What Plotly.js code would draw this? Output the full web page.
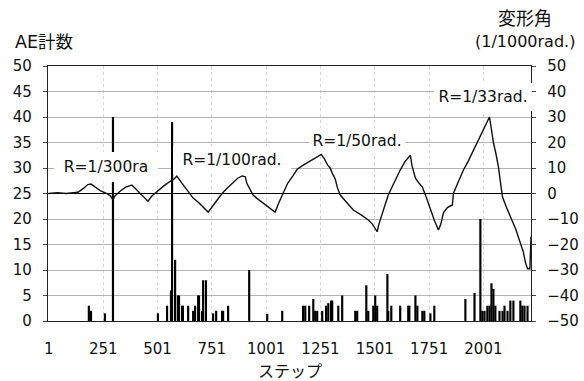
<!DOCTYPE html>
<html>
<head>
<meta charset="utf-8">
<script src="https://cdn.plot.ly/plotly-3.0.1.min.js"></script>
<style>html,body{margin:0;padding:0;background:#fff;}#chart{width:584px;height:381px;}</style>
</head>
<body>
<div id="chart"></div>
<script>
// Deformation angle (1/1000 rad.) vs step
const lineSteps = [0,40,80,120,135,160,180,195,215,240,268,285,296,305,330,355,383,410,430,457,475,500,530,563,575,590,600,614,640,665,690,715,734,750,775,798,820,845,870,890,905,912,925,941,960,990,1015,1042,1060,1079,1100,1125,1144,1170,1200,1230,1255,1270,1285,1296,1305,1319,1330,1342,1365,1402,1440,1471,1490,1512,1520,1535,1550,1563,1590,1618,1640,1665,1672,1688,1705,1720,1740,1757,1775,1794,1805,1817,1835,1858,1863,1885,1909,1930,1955,1975,1996,2010,2029,2040,2047,2060,2070,2080,2089,2105,2125,2150,2171,2185,2194,2204,2215,2220];
const angle = [0,0.3,0,0.3,0.5,2,3.5,3.7,2.5,1,0,-1,-2.5,-1,1,2.5,3.3,1,-1,-3,-1,1,3,5,5.5,6.8,5.5,4,1,-1.8,-3.5,-5.5,-7.3,-5.5,-2.5,0,2,4,6,6.9,6.5,4,2,-0.6,-2,-4,-5.5,-7.3,-3.5,0,4,7,9.5,11,12.5,14,15.3,13.5,11,10,8,5.7,2,-0.6,-3,-6.5,-8.5,-10.4,-12,-15,-12,-7.6,-4,-0.6,4.5,9.2,12.5,15,11,6,4,2.5,-2,-6.5,-10.5,-14.3,-12,-7.6,-5.5,-4.5,0,4.5,9.2,12.5,17,20,23.7,26.5,30,24,20,15,10.4,4,-1.4,-5,-9,-14,-19.4,-23,-27,-29.5,-29.5,-17];

// AE counts vs step
const aeSteps = [185,195,259,296,503,545,563,568,582,595,600,614,618,642,665,674,688,692,706,711,724,757,771,798,803,826,923,1006,1075,1171,1181,1199,1218,1227,1236,1259,1277,1287,1300,1305,1333,1351,1411,1420,1462,1471,1494,1503,1512,1559,1563,1577,1618,1655,1660,1688,1697,1720,1729,1757,1775,1918,1960,1987,1996,2006,2019,2029,2038,2047,2056,2075,2089,2098,2112,2125,2139,2171,2180,2190,2204];
const aeCounts = [3,2,1.5,40,1.5,3,6,39,12,5,5,3,3,3,2,3,5,5,2,8,8,1.5,2,2,2,3,10,1.4,2,3,3,3,4.3,2,2,2,3,3.5,4,4,3,5,2,2,7,2,3,5,3,9.2,2,3,3,3,3,5,3,2,2,1.5,3,4.3,5.5,20,2,2,3,3,7.4,6.3,3,2,2,3,2,4,4,4,3,3,3];

const xTickVals = [1,251,501,751,1001,1251,1501,1751,2001];
const xTickText = ['1','251','501','751','1001','1251','1501','1751','2001'];

const labels = ['R=1/300ra','R=1/100rad.','R=1/50rad.','R=1/33rad.'];
const leftTitle = 'AE計数';
const rightTitle1 = '変形角';
const rightTitle2 = '(1/1000rad.)';
const xTitle = 'ステップ';

const FONT = 'DejaVu Sans, Noto Sans CJK JP, sans-serif';
const CJK = 'Noto Sans CJK JP, sans-serif';
const L = 48, R = 53, T = 66, B = 60, W = 584, H = 381;
const pw = W - L - R, ph = H - T - B;
const px = v => (v - L) / pw;
const py = v => (H - B - v) / ph;

const traces = [
  {type:'bar', x: aeSteps, y: aeCounts, width: aeSteps.map(()=>10), marker:{color:'#000', line:{width:0}}, yaxis:'y', hoverinfo:'skip'},
  {type:'scatter', mode:'lines', x: lineSteps, y: angle, yaxis:'y2', line:{color:'#111', width:1.4}, hoverinfo:'skip'}
];

function box(text, cx, cy, w, h) {
  return {text, xref:'paper', yref:'paper', x: px(cx), y: py(cy), xanchor:'center', yanchor:'middle',
    showarrow:false, bgcolor:'#ffffff', width:w, height:h, borderpad:0, borderwidth:0,
    font:{family:FONT, size:15.5, color:'#111'}};
}

const layout = {
  width: W, height: H,
  margin: {l:L, r:R, t:T, b:B, pad:0},
  paper_bgcolor:'#fff', plot_bgcolor:'#fff',
  showlegend:false,
  font:{family:FONT, color:'#111'},
  xaxis: {range:[-3,2220], tickmode:'array', tickvals:xTickVals, ticktext:xTickText,
    showgrid:true, gridcolor:'#d6d6d6', griddash:'dot', gridwidth:1,
    showline:true, mirror:true, linecolor:'#222', linewidth:1.2, ticks:'', zeroline:false,
    tickfont:{family:FONT, size:15, color:'#111'}, ticklabelstandoff:14},
  yaxis: {range:[0,50], dtick:5, tick0:0, showgrid:true, gridcolor:'#b4b4b4', gridwidth:1,
    showline:true, mirror:true, linecolor:'#222', linewidth:1.2, ticks:'outside', ticklen:4, tickcolor:'#444',
    zeroline:false, tickfont:{family:FONT, size:15, color:'#111'}, ticklabelstandoff:8},
  yaxis2: {overlaying:'y', side:'right', range:[-50,50], dtick:10, tick0:0, showgrid:false,
    zeroline:true, zerolinecolor:'#000', zerolinewidth:1.5,
    showline:true, linecolor:'#222', linewidth:1.2, ticks:'outside', ticklen:4, tickcolor:'#444',
    tickfont:{family:FONT, size:15, color:'#111'}, ticklabelstandoff:8},
  annotations: [
    box(labels[0], 106, 167, 104, 30),
    box(labels[1], 232, 160, 118, 28),
    box(labels[2], 357, 140, 96, 25),
    box(labels[3], 483, 97, 98, 28),
    {text: leftTitle, xref:'paper', yref:'paper', x:px(13), y:py(42), xanchor:'left', yanchor:'middle', showarrow:false, font:{family:FONT, size:17.5, color:'#111'}},
    {text: rightTitle1, xref:'paper', yref:'paper', x:px(525), y:py(17), xanchor:'center', yanchor:'middle', showarrow:false, font:{family:CJK, size:18, color:'#111'}},
    {text: rightTitle2, xref:'paper', yref:'paper', x:px(524.5), y:py(42), xanchor:'center', yanchor:'middle', showarrow:false, font:{family:FONT, size:16, color:'#111'}},
    {text: xTitle, xref:'paper', yref:'paper', x:px(290), y:py(370), xanchor:'center', yanchor:'middle', borderpad:0, showarrow:false, font:{family:CJK, size:16, color:'#111'}}
  ]
};

Plotly.newPlot('chart', traces, layout, {staticPlot:true, displayModeBar:false});
</script>
</body>
</html>
